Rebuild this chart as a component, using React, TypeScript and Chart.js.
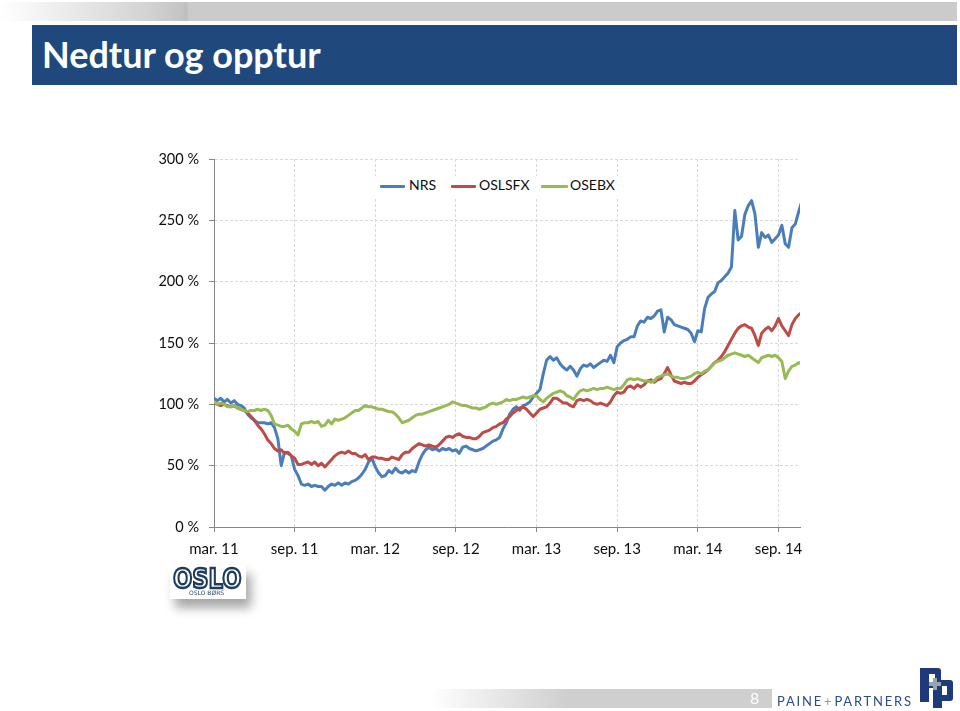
import React, { useEffect, useRef } from "react";
import { Chart, registerables } from "chart.js";

Chart.register(...registerables);

// x positions are months after March 2011, one value every quarter month
const STEP_MONTHS = 0.25;
const X_MAX_MONTHS = 43.6;
const tickMonths = [0, 6, 12, 18, 24, 30, 36, 42];
const tickLabels = ["mar. 11", "sep. 11", "mar. 12", "sep. 12", "mar. 13", "sep. 13", "mar. 14", "sep. 14"];
const Y_MIN = 0;
const Y_MAX = 300;
const Y_STEP = 50;

const seriesNames = ["NRS", "OSLSFX", "OSEBX"];
const seriesColors = ["#4a7ebb", "#be4b48", "#98b954"];

const nrs = [
  105, 103, 105, 102, 104, 101, 103, 100, 99, 97,
  92, 89, 87, 85, 85, 85, 84, 85, 81, 72,
  50, 61, 60, 58, 47, 42, 35, 34, 35, 33,
  34, 33, 33, 30, 33, 35, 34, 36, 34, 36,
  35, 37, 38, 40, 43, 47, 53, 56, 49, 44,
  41, 42, 46, 44, 48, 45, 44, 46, 44, 46,
  45, 53, 59, 63, 65, 63, 64, 62, 64, 63,
  64, 62, 63, 60, 65, 66, 64, 63, 62, 63,
  64, 66, 68, 70, 71, 73, 80, 85, 92, 96,
  98, 95, 99, 100, 102, 106, 109, 112, 125, 136,
  139, 136, 138, 133, 130, 128, 131, 128, 123, 129,
  132, 131, 133, 130, 132, 134, 136, 135, 140, 134,
  147, 150, 152, 153, 155, 155, 164, 168, 167, 171,
  170, 172, 176, 177, 159, 171, 169, 165, 164, 163,
  162, 161, 158, 151, 160, 159, 178, 187, 190, 192,
  199, 201, 204, 207, 212, 258, 234, 237, 255, 262,
  266, 255, 228, 240, 236, 238, 232, 235, 238, 246,
  231, 228, 244, 247, 257, 266,
];

const oslsfx = [
  101, 100, 99, 100, 99, 98, 99, 97, 96, 95,
  93, 90, 87, 83, 80, 76, 71, 68, 64, 62,
  63, 60, 61, 58, 56, 51, 51, 52, 53, 51,
  53, 50, 52, 49, 52, 55, 58, 60, 61, 60,
  62, 60, 60, 58, 57, 59, 55, 57, 57, 56,
  56, 55, 55, 57, 56, 55, 59, 61, 61, 64,
  66, 68, 67, 66, 67, 66, 65, 67, 70, 73,
  74, 73, 75, 76, 74, 73, 73, 72, 72, 74,
  77, 78, 79, 81, 82, 84, 85, 88, 90, 93,
  95, 97, 98, 96, 93, 90, 93, 96, 97, 98,
  101, 105, 105, 103, 101, 101, 99, 98, 103, 104,
  103, 104, 103, 101, 100, 101, 100, 99, 102, 107,
  110, 109, 110, 114, 115, 113, 116, 114, 116, 119,
  120, 118, 120, 121, 125, 130, 124, 119, 118, 117,
  118, 117, 117, 119, 122, 124, 126, 128, 131, 134,
  136, 139, 143, 148, 153, 158, 162, 164, 165, 163,
  162, 156, 148, 158, 161, 163, 160, 164, 170, 164,
  160, 156, 165, 170, 173, 175,
];

const osebx = [
  102, 100, 101, 100, 98, 98, 99, 97, 96, 95,
  94, 95, 95, 96, 95, 96, 95, 91, 84, 83,
  82, 82, 83, 80, 78, 75, 84, 85, 85, 86,
  85, 86, 82, 83, 87, 84, 88, 87, 88, 89,
  91, 93, 95, 95, 97, 99, 98, 98, 97, 96,
  96, 95, 94, 94, 92, 89, 85, 86, 87, 89,
  91, 92, 92, 93, 94, 95, 96, 97, 98, 99,
  100, 102, 101, 100, 99, 99, 98, 97, 97, 96,
  97, 98, 100, 101, 100, 101, 102, 104, 103, 104,
  104, 105, 106, 105, 106, 107, 107, 104, 102, 105,
  107, 109, 110, 111, 110, 107, 106, 104, 108, 111,
  112, 111, 112, 113, 112, 113, 113, 114, 113, 112,
  113, 113, 116, 120, 121, 120, 121, 120, 119, 119,
  118, 119, 122, 123, 124, 125, 123, 122, 122, 121,
  121, 122, 123, 125, 126, 125, 127, 128, 131, 134,
  135, 136, 138, 140, 141, 142, 141, 140, 139, 140,
  138, 136, 134, 138, 139, 140, 139, 140, 138, 135,
  121, 127, 131, 132, 134, 133,
];

const FONT = "Lato, 'Open Sans', sans-serif";
const TEXT = "#0d0d0d";

export default function App() {
  const canvasRef = useRef<HTMLCanvasElement>(null);

  useEffect(() => {
    const toPoints = (vals: number[]) => vals.map((v, i) => ({ x: i * STEP_MONTHS, y: v }));
    const chart = new Chart(canvasRef.current as HTMLCanvasElement, {
      type: "line",
      data: {
        datasets: [nrs, oslsfx, osebx].map((vals, i) => ({
          label: seriesNames[i],
          data: toPoints(vals),
          borderColor: seriesColors[i],
          backgroundColor: seriesColors[i],
          borderWidth: 3,
          pointRadius: 0,
          pointHoverRadius: 0,
          tension: 0,
          fill: false,
          borderJoinStyle: "round" as const,
          borderCapStyle: "round" as const,
          order: 3 - i,
        })),
      },
      options: {
        responsive: false,
        animation: false,
        events: [],
        layout: { padding: { left: 150, top: 159, right: 160, bottom: 144 } },
        plugins: { legend: { display: false }, tooltip: { enabled: false }, title: { display: false } },
        scales: {
          x: {
            type: "linear",
            min: 0,
            max: X_MAX_MONTHS,
            afterBuildTicks: (s: any) => {
              s.ticks = tickMonths.map((v) => ({ value: v }));
            },
            afterFit: (s: any) => {
              s.height = 40;
            },
            ticks: {
              autoSkip: false,
              maxRotation: 0,
              minRotation: 0,
              padding: 8,
              color: TEXT,
              font: { family: FONT, size: 15 },
              callback: (v: any) => {
                const idx = tickMonths.indexOf(Number(v));
                return idx >= 0 ? tickLabels[idx] : "";
              },
            },
            grid: { color: "#d9d9d9", lineWidth: 1, tickColor: "#868686", tickLength: 5, tickWidth: 1 },
            border: { display: true, color: "#868686", width: 1, dash: [3, 2] },
          },
          y: {
            type: "linear",
            min: Y_MIN,
            max: Y_MAX,
            afterFit: (s: any) => {
              s.width = 64;
            },
            ticks: {
              stepSize: Y_STEP,
              padding: 10,
              color: TEXT,
              font: { family: FONT, size: 14.5 },
              callback: (v: any) => `${v} %`,
            },
            grid: { color: "#d9d9d9", lineWidth: 1, tickColor: "#868686", tickLength: 5, tickWidth: 1 },
            border: { display: true, color: "#868686", width: 1, dash: [3, 2] },
          },
        },
      } as any,
    });
    return () => chart.destroy();
  }, []);

  const legendText: React.CSSProperties = {
    position: "absolute",
    top: 178,
    fontFamily: FONT,
    fontSize: 14,
    lineHeight: "14px",
    color: TEXT,
    whiteSpace: "nowrap",
  };
  const legendLine = (left: number, width: number, color: string): React.CSSProperties => ({
    position: "absolute",
    left,
    top: 185,
    width,
    height: 3,
    background: color,
    borderRadius: 1,
  });

  return (
    <div
      style={{
        position: "absolute",
        left: 0,
        top: 0,
        width: 960,
        height: 711,
        background: "#ffffff",
        overflow: "hidden",
      }}
    >
      {/* top grey strip */}
      <div
        style={{
          position: "absolute",
          left: 0,
          top: 2,
          width: 957,
          height: 19,
          background:
            "linear-gradient(to right, #ffffff 0px, #d2d2d2 150px, #c4c4c4 182px, #bdbdbd 186px, #cbcbcb 189px, #cbcbcb 100%)",
        }}
      />
      {/* title bar */}
      <div
        style={{
          position: "absolute",
          left: 32,
          top: 25,
          width: 925,
          height: 60,
          background: "#1f497d",
        }}
      />
      <div
        style={{
          position: "absolute",
          left: 42,
          top: 36,
          fontFamily: FONT,
          fontWeight: 700,
          fontSize: 36,
          lineHeight: "36px",
          color: "#ffffff",
          whiteSpace: "nowrap",
        }}
      >
        Nedtur og opptur
      </div>

      <canvas
        ref={canvasRef}
        width={960}
        height={711}
        style={{ position: "absolute", left: 0, top: 0 }}
      />

      {/* legend */}
      <div style={{ position: "absolute", left: 372, top: 176, width: 248, height: 21, background: "#ffffff" }} />
      <div style={legendLine(380, 25, seriesColors[0])} />
      <div style={{ ...legendText, left: 409 }}>{seriesNames[0]}</div>
      <div style={legendLine(451, 25, seriesColors[1])} />
      <div style={{ ...legendText, left: 479 }}>{seriesNames[1]}</div>
      <div style={legendLine(541, 27, seriesColors[2])} />
      <div style={{ ...legendText, left: 570 }}>{seriesNames[2]}</div>

      {/* Oslo Børs logo */}
      <div
        style={{
          position: "absolute",
          left: 170,
          top: 565,
          width: 76,
          height: 34,
          background: "#ffffff",
          boxShadow: "5px 9px 10px rgba(0,0,0,0.35)",
        }}
      >
        <div
          style={{
            position: "absolute",
            left: 3,
            top: 0,
            fontFamily: "'DejaVu Sans', sans-serif",
            fontWeight: 700,
            fontSize: 27,
            lineHeight: "27px",
            color: "#ffffff",
            WebkitTextStroke: "2.5px #1d3c5e",
            transform: "scaleX(0.84)",
            transformOrigin: "left top",
            whiteSpace: "nowrap",
          }}
        >
          OSLO
        </div>
        <div
          style={{
            position: "absolute",
            left: 19,
            top: 25,
            fontFamily: "'DejaVu Sans', sans-serif",
            fontSize: 6,
            lineHeight: "6px",
            color: "#1d3c5e",
            whiteSpace: "nowrap",
          }}
        >
          OSLO BØRS
        </div>
      </div>

      {/* bottom strip */}
      <div
        style={{
          position: "absolute",
          left: 430,
          top: 689,
          width: 342,
          height: 19,
          background: "linear-gradient(to right, rgba(207,207,207,0) 0%, #cfcfcf 40%, #cfcfcf 100%)",
        }}
      />
      <div
        style={{
          position: "absolute",
          left: 750,
          top: 690,
          fontFamily: FONT,
          fontSize: 16,
          lineHeight: "16px",
          color: "#ffffff",
        }}
      >
        8
      </div>
      <div
        style={{
          position: "absolute",
          left: 777,
          top: 695,
          fontFamily: FONT,
          fontSize: 13,
          lineHeight: "13px",
          letterSpacing: 1.8,
          color: "#2c4d8a",
          whiteSpace: "nowrap",
        }}
      >
        PAINE<span style={{ color: "#9a9a9a", margin: "0 1px" }}>+</span>PARTNERS
      </div>
      {/* P+P mark */}
      <div style={{ position: "absolute", left: 920, top: 668, width: 9, height: 34, background: "#1e3a78" }} />
      <div style={{ position: "absolute", left: 920, top: 668, width: 21, height: 20, background: "#1e3a78", borderRadius: "0 3px 3px 0" }} />
      <div style={{ position: "absolute", left: 929, top: 674, width: 6, height: 8, background: "#ffffff" }} />
      <div style={{ position: "absolute", left: 933, top: 680, width: 20, height: 21, background: "#1e3a78", borderRadius: "0 3px 3px 0" }} />
      <div style={{ position: "absolute", left: 933, top: 680, width: 9, height: 28, background: "#1e3a78" }} />
      <div style={{ position: "absolute", left: 942, top: 686, width: 5, height: 9, background: "#ffffff" }} />
      <div style={{ position: "absolute", left: 929, top: 682, width: 12, height: 4, background: "#9aa3b0" }} />
      <div style={{ position: "absolute", left: 933, top: 678, width: 4, height: 12, background: "#9aa3b0" }} />
    </div>
  );
}
